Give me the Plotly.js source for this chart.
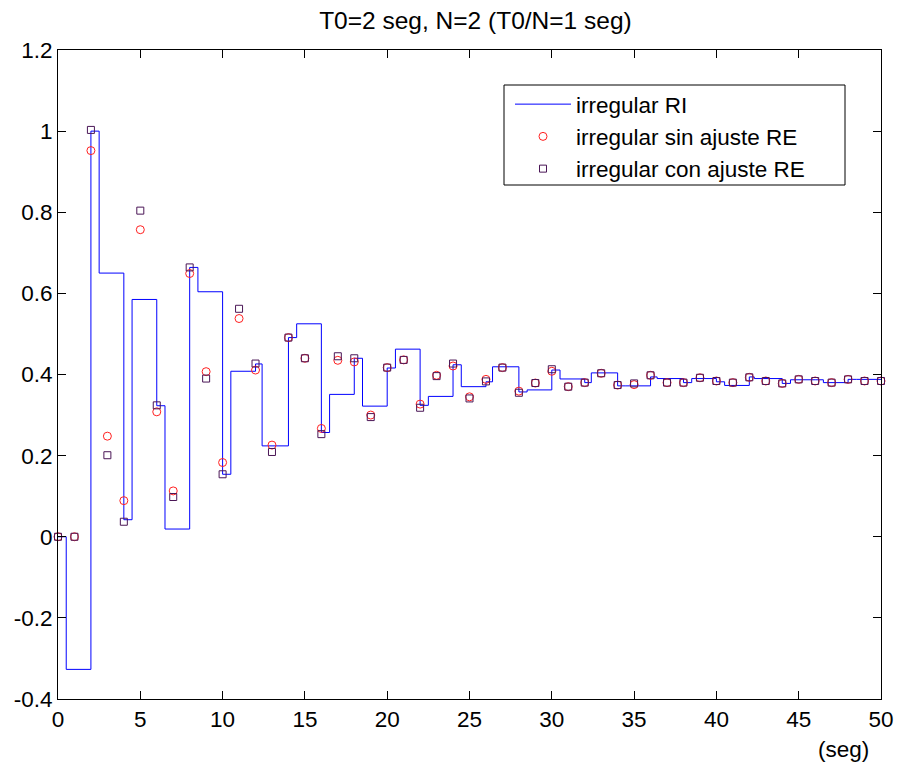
<!DOCTYPE html>
<html>
<head>
<meta charset="utf-8">
<script src="https://cdn.plot.ly/plotly-3.0.1.min.js"></script>
<style>html,body{margin:0;padding:0;background:#fff;}#chart{width:897px;height:769px;}</style>
</head>
<body>
<div id="chart"></div>
<script>
// Step times (start of each hold segment) and hold levels for the "irregular RI" line
const riTimes = [0, 0.5, 2, 2.5, 4, 4.5, 6, 6.5, 8, 8.5, 10, 10.5, 12, 12.4, 14, 14.5, 16, 16.5, 18, 18.5,
                 20, 20.5, 22, 22.5, 24, 24.5, 26, 26.4, 28, 28.5, 30, 30.5, 32, 32.4, 34, 34.5, 36, 36.4, 38, 38.5,
                 40, 40.5, 42, 42.3, 44, 44.5, 46, 46.5, 48, 48.5];
const riLevels = [0, -0.327, 1.0, 0.65, 0.042, 0.585, 0.323, 0.019, 0.664, 0.604, 0.154, 0.408, 0.426, 0.224, 0.491, 0.525, 0.257, 0.351, 0.44, 0.322,
                  0.416, 0.4625, 0.324, 0.346, 0.424, 0.37, 0.382, 0.419, 0.357, 0.362, 0.411, 0.389, 0.38, 0.404, 0.372, 0.372, 0.394, 0.39, 0.38, 0.39,
                  0.382, 0.373, 0.394, 0.39, 0.378, 0.387, 0.387, 0.38, 0.388, 0.388];
const tEnd = 50;

// Sample instants (seconds)
const sampleTimes = [0,1,2,3,4,5,6,7,8,9,10,11,12,13,14,15,16,17,18,19,20,21,22,23,24,25,26,27,28,29,30,
                     31,32,33,34,35,36,37,38,39,40,41,42,43,44,45,46,47,48,49,50];
// "irregular sin ajuste RE" (circles)
const sinAjuste = [0, 0, 0.952, 0.248, 0.089, 0.757, 0.308, 0.113, 0.649, 0.407, 0.183, 0.538, 0.411, 0.226, 0.491, 0.44, 0.267, 0.435, 0.431, 0.300,
                   0.417, 0.436, 0.327, 0.398, 0.421, 0.345, 0.388, 0.417, 0.359, 0.379, 0.408,
                   0.370, 0.380, 0.403, 0.374, 0.375, 0.398, 0.380, 0.380, 0.392, 0.384, 0.380, 0.393, 0.384, 0.378, 0.388, 0.384, 0.380, 0.388, 0.384, 0.384];
// "irregular con ajuste RE" (squares)
const conAjuste = [0, 0, 1.003, 0.201, 0.037, 0.804, 0.324, 0.098, 0.664, 0.390, 0.154, 0.562, 0.427, 0.209, 0.491, 0.44, 0.253, 0.445, 0.440, 0.295,
                   0.417, 0.436, 0.318, 0.396, 0.427, 0.341, 0.383, 0.417, 0.355, 0.379, 0.413,
                   0.370, 0.380, 0.403, 0.374, 0.378, 0.398, 0.380, 0.380, 0.392, 0.384, 0.380, 0.393, 0.384, 0.378, 0.388, 0.384, 0.380, 0.388, 0.384, 0.384];

const xTickVals = [0,5,10,15,20,25,30,35,40,45,50];
const yTickVals = [-0.4,-0.2,0,0.2,0.4,0.6,0.8,1,1.2];
const yTickText = ["-0.4","-0.2","0","0.2","0.4","0.6","0.8","1","1.2"];

const titleText = "T0=2 seg, N=2 (T0/N=1 seg)";
const xUnitText = "(seg)";
const names = ["irregular RI", "irregular sin ajuste RE", "irregular con ajuste RE"];

const lineX = riTimes.concat([tEnd]);
const lineY = riLevels.concat([riLevels[riLevels.length-1]]);

const FONT = "Liberation Sans, Arial, sans-serif";

const traces = [
  {x: lineX, y: lineY, type: 'scatter', mode: 'lines', name: names[0],
   line: {color: '#0000ff', width: 1, shape: 'hv'}},
  {x: sampleTimes, y: sinAjuste, type: 'scatter', mode: 'markers', name: names[1], cliponaxis: false,
   marker: {symbol: 'circle-open', size: 8, color: '#ff2020', line: {width: 1}}},
  {x: sampleTimes, y: conAjuste, type: 'scatter', mode: 'markers', name: names[2], cliponaxis: false,
   marker: {symbol: 'square-open', size: 7, color: '#4a1656', line: {width: 1}}}
];

const axisCommon = {
  showline: true, mirror: 'ticks', linecolor: '#000', linewidth: 1,
  ticks: 'inside', ticklen: 8, tickcolor: '#000', tickwidth: 1,
  showgrid: false, zeroline: false,
  tickfont: {family: FONT, size: 22.5, color: '#000'}
};

// plot area in pixels: left 58, width 823, top 50, height 649
const legBox = {x0: (504 - 58) / 823, x1: (845 - 58) / 823, y0: 1 - (85 - 50) / 649, y1: 1 - (185 - 50) / 649};

const layout = {
  width: 897, height: 769,
  margin: {l: 58, r: 16, t: 50, b: 70},
  paper_bgcolor: '#fff', plot_bgcolor: '#fff',
  title: {text: titleText, font: {family: FONT, size: 24.5, color: '#000'}, x: 0.53, xanchor: 'center', y: 0.973, yanchor: 'middle'},
  xaxis: Object.assign({}, axisCommon, {range: [0, 50], tickvals: xTickVals}),
  yaxis: Object.assign({}, axisCommon, {range: [-0.4, 1.2], tickvals: yTickVals, ticktext: yTickText}),
  showlegend: true,
  legend: {x: (510 - 58) / 823, y: 1 - (83 - 50) / 649, xanchor: 'left', yanchor: 'top', bgcolor: 'rgba(0,0,0,0)', borderwidth: 0,
           font: {family: FONT, size: 22.5, color: '#000'}, tracegroupgap: 0, itemwidth: 56},
  shapes: [{type: 'rect', xref: 'paper', yref: 'paper', x0: legBox.x0, x1: legBox.x1, y0: legBox.y0, y1: legBox.y1,
            line: {color: '#000', width: 1}, fillcolor: '#fff', layer: 'below'}],
  annotations: [{text: xUnitText, xref: 'paper', yref: 'paper', x: 0.954, y: -0.078, xanchor: 'center', yanchor: 'middle',
                 showarrow: false, font: {family: FONT, size: 22.5, color: '#000'}}]
};

Plotly.newPlot('chart', traces, layout, {displayModeBar: false, staticPlot: true});
</script>
</body>
</html>
